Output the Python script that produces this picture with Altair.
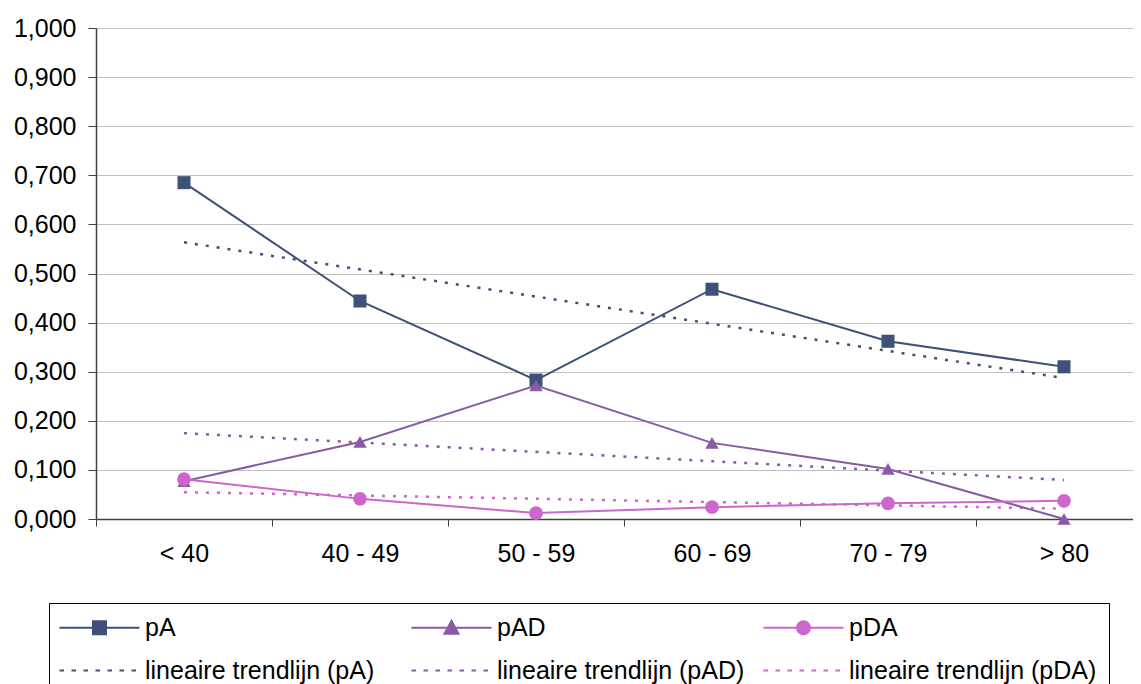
import json
import altair as alt
import pandas as pd

# ---- data ----
categories = ["< 40", "40 - 49", "50 - 59", "60 - 69", "70 - 79", "> 80"]
pA = [0.685, 0.444, 0.283, 0.468, 0.362, 0.310]
pAD = [0.077, 0.157, 0.272, 0.155, 0.102, 0.000]
pDA = [0.081, 0.041, 0.012, 0.024, 0.032, 0.037]
series_names = ["pA", "pAD", "pDA"]
trend_names = ["lineaire trendlijn (pA)", "lineaire trendlijn (pAD)", "lineaire trendlijn (pDA)"]
y_ticks = [0.0, 0.1, 0.2, 0.3, 0.4, 0.5, 0.6, 0.7, 0.8, 0.9, 1.0]

# ---- styles ----
colors = ["#3d5179", "#8a5aa4", "#cc66cc"]
marker_shapes = ["square", "triangle-up", "circle"]
marker_sizes = [170, 180, 190]
FONT = "Arial, Liberation Sans, sans-serif"

rows = []
for name, vals in zip(series_names, [pA, pAD, pDA]):
    for i, (c, v) in enumerate(zip(categories, vals)):
        rows.append({"series": name, "cat": c, "idx": i + 1, "value": v})
df = pd.DataFrame(rows)

x_enc = alt.X(
    "cat:N",
    sort=categories,
    bandPosition=0.5,
    scale=alt.Scale(type="band", domain=categories, range=[0, 1056], paddingInner=0, paddingOuter=0),
    axis=alt.Axis(title=None, tickBand="extent", tickSize=7, labelPadding=15, labelAngle=0,
                  grid=False, labelFontSize=25),
)
y_enc = alt.Y(
    "value:Q",
    scale=alt.Scale(domain=[0, 1], nice=False),
    axis=alt.Axis(title=None, values=y_ticks, tickSize=8, labelPadding=12, grid=True,
                  labelExpr="replace(format(datum.value, '.3f'), '.', ',')", labelFontSize=25),
)

layers = []
cat_array = json.dumps(categories)
for name, col in zip(series_names, colors):
    trend = (
        alt.Chart(df)
        .transform_filter(alt.datum.series == name)
        .transform_regression("idx", "value")
        .transform_calculate(cat=f"{cat_array}[datum.idx - 1]")
        .mark_line(color=col, strokeWidth=2.5, strokeDash=[3, 8])
        .encode(x=x_enc, y=y_enc)
    )
    layers.append(trend)

for name, col, shp, sz in zip(series_names, colors, marker_shapes, marker_sizes):
    base = alt.Chart(df).transform_filter(alt.datum.series == name)
    layers.append(base.mark_line(color=col, strokeWidth=2).encode(x=x_enc, y=y_enc))
    layers.append(
        base.mark_point(filled=True, opacity=1, color=col, shape=shp, size=sz, strokeWidth=0)
        .encode(x=x_enc, y=y_enc)
    )

# legend-only layer (no marks drawn; symbols are line+marker paths)
# order chosen so the column-wise legend grid reads row by row like the reference
legend_names = [series_names[0], trend_names[0], series_names[1], trend_names[1],
                series_names[2], trend_names[2]]
legend_colors = [colors[0], colors[0], colors[1], colors[1], colors[2], colors[2]]
dots = "".join(f"M{a:.2f},0H{a + 0.45:.2f}" for a in [-4.0, -2.8, -1.6, -0.4, 0.8, 2.0, 3.2])
legend_paths = [
    "M-4,0H4M-0.65,-0.65H0.65V0.65H-0.65Z",
    dots,
    "M-4,0H4M0,-0.7L0.7,0.6H-0.7Z",
    dots,
    "M-4,0H4M-0.65,0A0.65,0.65,0,1,1,0.65,0A0.65,0.65,0,1,1,-0.65,0Z",
    dots,
]
leg = alt.Legend(
    title=None, orient="none", legendX=-47, legendY=575, columns=3, gridAlign="all",
    columnPadding=14, rowPadding=17, padding=12, strokeColor="black", fillColor="white",
    symbolSize=400, symbolStrokeWidth=2, symbolOffset=26, labelOffset=33,
    labelFont=FONT, labelFontSize=25, labelColor="black", labelLimit=500,
)
legend_layer = (
    alt.Chart(pd.DataFrame({"series": legend_names}))
    .transform_filter("false")
    .mark_point(filled=True, opacity=1, strokeWidth=2)
    .encode(
        fill=alt.Fill("series:N", scale=alt.Scale(domain=legend_names, range=legend_colors), legend=leg),
        stroke=alt.Stroke("series:N", scale=alt.Scale(domain=legend_names, range=legend_colors), legend=leg),
        shape=alt.Shape("series:N", scale=alt.Scale(domain=legend_names, range=legend_paths), legend=leg),
    )
)
layers.append(legend_layer)

chart = (
    alt.layer(*layers)
    .properties(
        width=1037, height=491,
        autosize=alt.AutoSizeParams(type="none"),
        padding={"left": 88, "top": 20, "right": 0, "bottom": 165},
        background="white",
    )
    .configure_view(stroke=None)
    .configure_axis(
        labelFont=FONT, labelColor="black", domainColor="#404040", tickColor="#404040",
        gridColor="#c0c0c0", gridWidth=1, domainWidth=1.5,
    )
)

chart.save("out.html", embed_options={"renderer": "svg", "actions": False})
